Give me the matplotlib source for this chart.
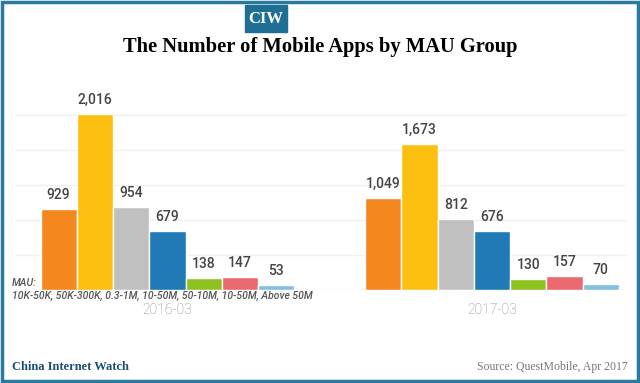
import matplotlib.pyplot as plt
import numpy as np
from matplotlib.patches import Rectangle

periods = ["2016-03", "2017-03"]
groups = ["10K-50K", "50K-300K", "0.3-1M", "10-50M", "50-10M", "10-50M", "Above 50M"]
values = {
    "2016-03": [929, 2016, 954, 679, 138, 147, 53],
    "2017-03": [1049, 1673, 812, 676, 130, 157, 70],
}
colors = ["#F5871F", "#FDC010", "#C0C0C0", "#1F7AB5", "#8DC21F", "#EB6A6F", "#82C0E0"]

fig = plt.figure(figsize=(6.4, 3.83), dpi=100)
ax = fig.add_axes([15 / 640, 1 - 290 / 383, 612 / 640, 200 / 383])

w = 0.1118
x = np.arange(len(periods))
for i, g in enumerate(groups):
    vals = [values[p][i] for p in periods]
    pos = x + (i - 3) * w
    ax.bar(pos, vals, w, color=colors[i], edgecolor="white", linewidth=1, zorder=3)
    for xp, v in zip(pos, vals):
        ax.annotate(f"{v:,}", (xp, v), xytext=(0, 5), textcoords="offset points",
                    ha="center", va="bottom", fontsize=10, color="#444444",
                    family="Roboto", fontweight="medium")

ax.set_xlim(-0.47, 1.416)
ax.set_ylim(0, 2286)
ax.set_yticks([400, 800, 1200, 1600, 2000])
ax.grid(axis="y", color="#f0f0f0", linewidth=1, zorder=0)
ax.axhline(0, color="#e6e6e6", linewidth=1, zorder=1)
ax.tick_params(left=False, bottom=False, labelleft=False, labelbottom=False)
for s in ax.spines.values():
    s.set_visible(False)

for xp, p in zip(x, periods):
    fig.text((15 + (xp + 0.47) * 324.5) / 640, 1 - 310 / 383, p, ha="center", va="center",
             fontsize=10, color="#888888", family="Roboto", fontweight="light")

fig.text(12 / 640, 1 - 283 / 383, "MAU:", fontsize=7.5, style="italic", color="#555555",
         ha="left", va="center", family="Roboto", fontweight="medium")
fig.text(12 / 640, 1 - 296 / 383, ", ".join(groups), fontsize=7.5, style="italic",
         color="#555555", ha="left", va="center", family="Roboto", fontweight="medium")

# header and footer
fig.patches.append(Rectangle((245 / 640, 1 - 32 / 383), 42 / 640, 27 / 383,
                             transform=fig.transFigure, color="#1F6F94"))
fig.text(266 / 640, 1 - 19 / 383, "CIW", ha="center", va="center", color="white",
         fontsize=12, fontweight="bold", family="Liberation Serif")
fig.text(0.5, 1 - 47 / 383, "The Number of Mobile Apps by MAU Group", ha="center",
         va="center", fontsize=14.8, fontweight="bold", family="Liberation Serif")
fig.text(12 / 640, 1 - 367 / 383, "China Internet Watch", ha="left", va="center",
         fontsize=9, fontweight="bold", color="#1D4E72", family="Liberation Serif")
fig.text(628 / 640, 1 - 367 / 383, "Source: QuestMobile, Apr 2017", ha="right",
         va="center", fontsize=8.5, color="#777777", family="Liberation Serif")
fig.patches.append(Rectangle((2 / 640, 2 / 383), 636 / 640, 379 / 383,
                             transform=fig.transFigure, fill=False,
                             edgecolor="#2A7AA0", linewidth=2.5))

fig.savefig("out.png", dpi=100)
